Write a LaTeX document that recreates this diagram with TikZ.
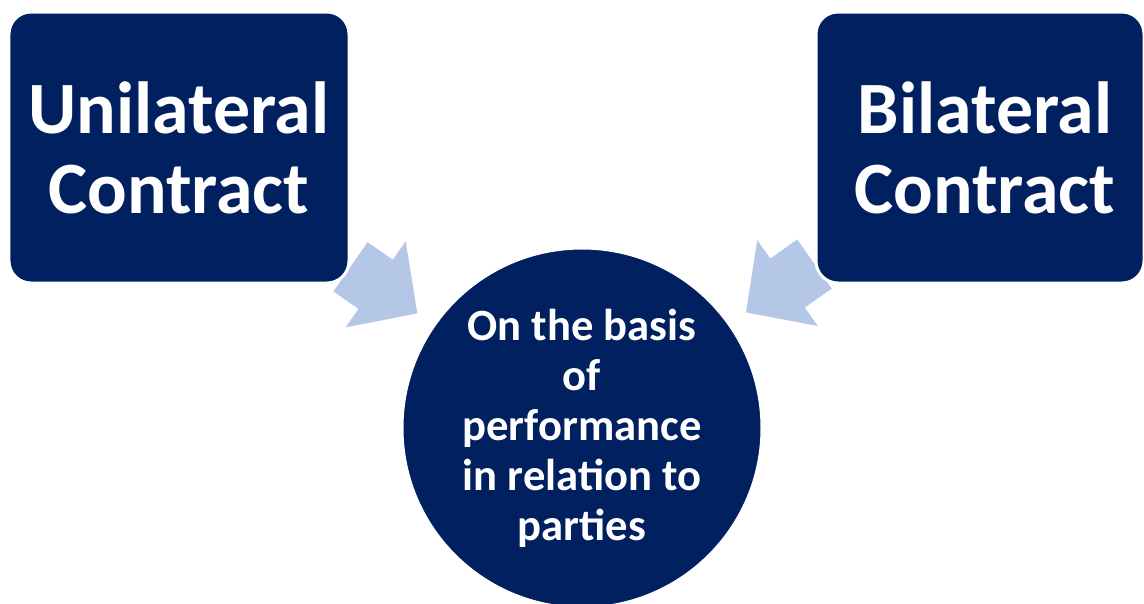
\documentclass[tikz,border=0pt]{standalone}
\usepackage{fontspec}
\setmainfont{Carlito}
\usetikzlibrary{arrows.meta,backgrounds}
\definecolor{navy}{HTML}{002060}
\definecolor{pale}{HTML}{B4C7E7}

\begin{document}
\begin{tikzpicture}[
	box/.style={rectangle, rounded corners=0.44cm, fill=navy, draw=white, line width=0.06cm,
		text=white, align=center, inner sep=0pt,
		font=\bfseries\fontsize{42}{45.5}\selectfont},
	round/.style={circle, fill=navy, draw=white, line width=0.06cm, text=white,
		align=center, minimum size=7.2cm, inner sep=0pt,
		font=\bfseries\fontsize{25.4}{28.45}\selectfont},
	blockarrow/.style={draw=pale, line width=1.2cm,
		-{Triangle[width=2.04cm, length=1.02cm]}, shorten >=0.38cm}]
\useasboundingbox (0,0) rectangle (22.88,-12.06);

\node(unilateral)	[box, minimum width=6.8cm, minimum height=5.42cm]	at (3.58,-2.95)	{Unilateral\\Contract};
\node(bilateral)	[box, minimum width=6.56cm, minimum height=5.42cm]	at (19.6,-2.95)	{\hspace*{0.2cm}Bilateral\\\hspace*{0.2cm}Contract};
\node(basis)	[round]	at (11.64,-8.56)	{On the basis\\of\\performance\\in relation to\\parties};

\begin{scope}[on background layer]
\foreach \x in {unilateral,bilateral} {
	\draw [blockarrow] (\x) -- (basis); }
\end{scope}

\end{tikzpicture}
\end{document}
